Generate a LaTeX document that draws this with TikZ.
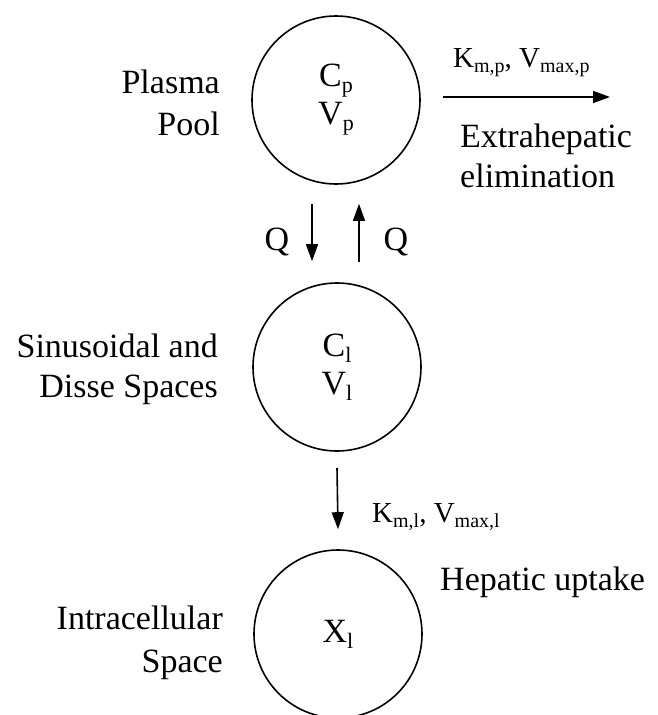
\documentclass[tikz,border=0pt]{standalone}
\usepackage{fontspec}
\setmainfont{Liberation Serif}
\usetikzlibrary{arrows.meta,calc}

% lowered subscript in the running font
\newcommand{\lsub}[2][22]{\raisebox{-0.18em}{\fontsize{#1}{#1}\selectfont #2}}

\tikzset{
  pool/.style={circle, draw, line width=1.6pt, minimum size=168pt, inner sep=0pt,
               align=center, font=\fontsize{34}{40}\selectfont},
  lbl/.style={inner sep=0pt, font=\fontsize{34}{40}\selectfont},
  klbl/.style={inner sep=0pt, font=\fontsize{29}{34}\selectfont},
  flow/.style={line width=1.6pt, -{Triangle[length=17pt,width=12pt]}}
}

\begin{document}
\begin{tikzpicture}[x=1pt,y=-1pt]
\useasboundingbox (0,0) rectangle (658,715);
\clip (0,0) rectangle (658,715);

% compartments
\node[pool] (c1) at (336,100) {C\lsub{p}\\[-2pt]V\lsub{p}};
\node[pool] (c2) at (337,367) {C\lsub{l}\\[-2pt]V\lsub{l}};
\node[pool] (c3) at (338,634) {\raisebox{-8pt}{X\lsub{l}}};

% compartment names
\node[lbl, anchor=base east] (plasma) at (220,93) {Plasma};
\node[lbl, anchor=base east] (pool) at (220,135) {Pool};
\node[lbl, anchor=base east] (sinus) at (218,357) {Sinusoidal and};
\node[lbl, anchor=base east] (disse) at (218,397) {Disse Spaces};
\node[lbl, anchor=base east] (intra) at (223,629) {Intracellular};
\node[lbl, anchor=base east] (space) at (223,672) {Space};

% extrahepatic elimination
\coordinate (e0) at (443,97);
\coordinate (e1) at (610,97);
\draw[flow] (e0) -- (e1);
\node[klbl, anchor=base west] (kp) at (453,67) {K\lsub[20]{m,p}, V\lsub[20]{max,p}};
\node[lbl, anchor=base west] (extra) at (460,147) {Extrahepatic};
\node[lbl, anchor=base west] (elim) at (460,187) {elimination};

% blood flow exchange
\coordinate (qd0) at ($(c1.south)+(-24,19)$);
\coordinate (qd1) at ($(c2.north)+(-25,-21)$);
\coordinate (qu0) at ($(c2.north)+(22,-20)$);
\coordinate (qu1) at ($(c1.south)+(23,19)$);
\draw[flow] (qd0) -- (qd1);
\draw[flow] (qu0) -- (qu1);
\node[lbl, anchor=base] (qleft) at (277,250) {Q};
\node[lbl, anchor=base] (qright) at (396,250) {Q};

% hepatic uptake
\coordinate (h0) at ($(c2.south)+(0,16)$);
\coordinate (h1) at ($(c3.north)+(0,-20)$);
\draw[flow] (h0) -- (h1);
\node[klbl, anchor=base west] (kl) at (372,522) {K\lsub[20]{m,l}, V\lsub[20]{max,l}};
\node[lbl, anchor=base west] (uptake) at (440,590) {Hepatic uptake};
\end{tikzpicture}
\end{document}
